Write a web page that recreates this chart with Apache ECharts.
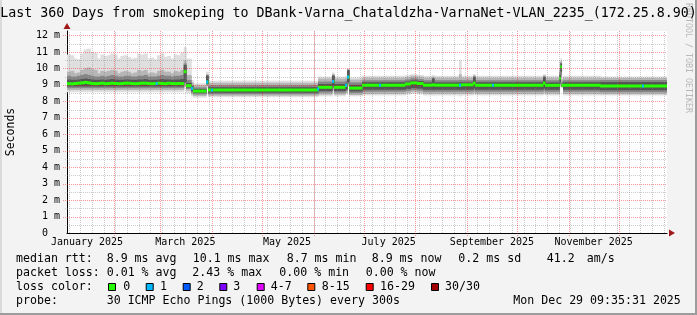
<!DOCTYPE html>
<html><head><meta charset="utf-8">
<script src="https://cdn.jsdelivr.net/npm/echarts@6/dist/echarts.min.js"></script>
<style>html,body{margin:0;padding:0;background:#f3f3f3}#c{width:697px;height:315px}</style>
</head><body><div id="c"></div>
<script>
// ================= DATA =================
const titleText = 'Last 360 Days from smokeping to DBank-Varna_Chataldzha-VarnaNet-VLAN_2235_(172.25.8.90)';
const yAxisName = 'Seconds';
const watermark = 'RRDTOOL / TOBI OETIKER';
// x = day of year 2025 (Jan 1 00:00 = 0)
const xStart = 3, xEnd = 363;
const monthLabels = ['January 2025','March 2025','May 2025','July 2025','September 2025','November 2025'];
const monthLabelDays = [15, 74, 135, 196, 258, 319];
const monthStartDays = [31, 59, 90, 120, 151, 181, 212, 243, 273, 304, 334];
const weekDays = [4,11,18,25,32,39,46,53,60,67,74,81,88,95,102,109,116,123,130,137,144,151,158,165,172,179,186,193,200,207,214,221,228,235,242,249,256,263,270,277,284,291,298,305,312,319,326,333,340,347,354,361];
const yTicks = [0,1,2,3,4,5,6,7,8,9,10,11,12];
const yMajor = [1,2,3,4,5,6,7,8,9,10,11,12];
const yMinor = [0.5,1.5,2.5,3.5,4.5,5.5,6.5,7.5,8.5,9.5,10.5,11.5];
const yMax = 12.27;

// segment start days (each segment lasts until the next start, last until xEnd); values in ms
const segStart = [3,5,7,9,11,13,15,17,19,21,23,25,27,29,31,33,35,37,39,41,43,45,47,49,51,53,55,57,59,61,63,65,67,69,71,
  73,74.4,77.4,78.6,86.4,87.6,153.6,162,163.2,169.8,171,172.2,180,205.8,209,213,216.6,222,223.2,238.2,239.4,246.6,247.8,288.6,289.8,298.4,299,299.6,300.6,322.8];
const median = [9.07,9.06,9.08,9.10,9.12,9.15,9.12,9.08,9.07,9.08,9.10,9.07,9.08,9.10,9.08,9.07,9.08,9.10,9.10,9.08,9.07,9.08,9.10,9.10,9.08,9.07,9.08,9.10,9.08,9.07,9.10,9.08,9.07,9.08,9.07,
  9.8,8.95,8.78,8.62,9.17,8.68,8.85,9.2,8.85,8.97,9.47,8.8,8.97,9.05,9.12,9.08,8.98,9.0,8.98,8.97,9.0,9.1,8.97,9.1,8.97,9.4,10.1,8.97,8.97,8.93];
// smoke layers (outermost 1 -> innermost 4)
const lo1 = [8.55,8.55,8.55,8.55,8.55,8.55,8.55,8.55,8.55,8.55,8.55,8.55,8.55,8.55,8.55,8.55,8.55,8.55,8.55,8.55,8.55,8.55,8.55,8.55,8.55,8.55,8.55,8.55,8.55,8.55,8.55,8.55,8.55,8.55,8.55,
  8.9,8.5,8.3,8.22,8.8,8.25,8.3,8.55,8.3,8.4,8.85,8.3,8.35,8.4,8.45,8.42,8.35,8.35,8.35,8.3,8.35,8.4,8.35,8.4,8.35,8.85,9.2,8.8,8.35,8.35];
const hi1 = [10.85,10.8,10.6,10.55,10.9,11.15,11.2,11.0,10.95,10.6,10.85,10.75,10.8,10.9,10.85,10.6,10.75,10.8,10.7,10.6,10.65,10.9,10.85,10.9,10.6,10.65,10.55,10.8,10.9,10.7,10.75,10.6,10.85,10.8,10.95,
  11.3,10.6,9.3,9.1,9.8,9.25,9.5,9.75,9.5,9.55,10.0,9.45,9.55,9.6,9.65,9.6,9.55,9.6,9.55,10.5,9.55,9.65,9.55,9.65,9.55,10.5,10.6,9.5,9.55,9.5];
const lo2 = [8.68,8.68,8.68,8.68,8.68,8.68,8.68,8.68,8.68,8.68,8.68,8.68,8.68,8.68,8.68,8.68,8.68,8.68,8.68,8.68,8.68,8.68,8.68,8.68,8.68,8.68,8.68,8.68,8.68,8.68,8.68,8.68,8.68,8.68,8.68,
  9.0,8.65,8.42,8.32,8.9,8.33,8.4,8.65,8.4,8.5,8.95,8.38,8.45,8.5,8.55,8.52,8.45,8.45,8.45,8.45,8.45,8.5,8.45,8.5,8.45,8.95,9.4,8.85,8.45,8.43];
const hi2 = [9.8,9.85,9.7,9.75,9.9,10.0,10.05,9.95,9.9,9.7,9.85,9.8,9.85,9.9,9.85,9.7,9.8,9.85,9.8,9.7,9.75,9.9,9.85,9.9,9.7,9.75,9.7,9.85,9.9,9.8,9.8,9.7,9.85,9.8,9.9,
  10.5,9.6,9.15,8.98,9.65,9.12,9.38,9.65,9.38,9.42,9.95,9.32,9.43,9.48,9.55,9.5,9.43,9.5,9.43,9.65,9.43,9.58,9.43,9.58,9.43,10.0,10.45,9.35,9.43,9.42];
const lo3 = [8.8,8.8,8.8,8.8,8.8,8.8,8.8,8.8,8.8,8.8,8.8,8.8,8.8,8.8,8.8,8.8,8.8,8.8,8.8,8.8,8.8,8.8,8.8,8.8,8.8,8.8,8.8,8.8,8.8,8.8,8.8,8.8,8.8,8.8,8.8,
  9.1,8.75,8.52,8.42,9.0,8.43,8.52,8.8,8.52,8.6,9.05,8.5,8.58,8.63,8.68,8.65,8.58,8.58,8.58,8.58,8.58,8.65,8.58,8.65,8.58,9.05,9.6,8.88,8.58,8.55];
const hi3 = [9.55,9.5,9.5,9.55,9.6,9.65,9.6,9.55,9.5,9.5,9.55,9.5,9.55,9.6,9.55,9.5,9.5,9.55,9.55,9.5,9.5,9.55,9.55,9.6,9.5,9.5,9.5,9.55,9.6,9.55,9.55,9.5,9.55,9.55,9.6,
  10.3,9.3,9.0,8.85,9.6,8.98,9.2,9.6,9.2,9.25,9.92,9.15,9.28,9.33,9.4,9.35,9.28,9.42,9.28,9.3,9.28,9.52,9.28,9.52,9.28,9.8,10.35,9.2,9.28,9.3];
const lo4 = [8.9,8.9,8.9,8.9,8.9,8.9,8.9,8.9,8.9,8.9,8.9,8.9,8.9,8.9,8.9,8.9,8.9,8.9,8.9,8.9,8.9,8.9,8.9,8.9,8.9,8.9,8.9,8.9,8.9,8.9,8.9,8.9,8.9,8.9,8.9,
  9.15,8.83,8.62,8.5,9.05,8.52,8.62,8.9,8.62,8.7,9.15,8.6,8.7,8.75,8.8,8.77,8.7,8.7,8.7,8.7,8.7,8.78,8.7,8.78,8.7,9.15,9.8,8.9,8.7,8.67];
const hi4 = [9.32,9.3,9.3,9.32,9.35,9.38,9.35,9.32,9.3,9.3,9.32,9.3,9.32,9.35,9.32,9.3,9.3,9.32,9.32,9.3,9.3,9.32,9.32,9.35,9.3,9.3,9.3,9.32,9.35,9.32,9.32,9.3,9.32,9.32,9.35,
  10.2,9.12,8.92,8.75,9.55,8.85,9.05,9.55,9.05,9.1,9.88,9.0,9.15,9.2,9.27,9.23,9.15,9.38,9.15,9.15,9.15,9.47,9.15,9.47,9.15,9.6,10.3,9.08,9.15,9.17];
// median points with 1/30 loss
const lossDays = [56.8, 78, 87, 90, 153.6, 162.6, 170.4, 171.6, 190.8, 238.8, 258.6, 348.6];
const lossVals = [9.07, 8.78, 9.17, 8.67, 8.75, 9.2, 8.97, 9.47, 8.97, 8.97, 8.97, 8.93];

// legend texts
const rttLabel = 'median rtt:';
const rttStats = ['8.9 ms avg','10.1 ms max','8.7 ms min','8.9 ms now','0.2 ms sd','41.2','am/s'];
const lossLabel = 'packet loss:';
const lossStats = ['0.01 % avg','2.43 % max','0.00 % min','0.00 % now'];
const colorLabel = 'loss color:';
const lossBuckets = ['0','1','2','3','4-7','8-15','16-29','30/30'];
const probeLabel = 'probe:';
const probeText = '30 ICMP Echo Pings (1000 Bytes) every 300s';
const dateText = 'Mon Dec 29 09:35:31 2025';

// ================= STYLE / LAYOUT =================
const MONO = '"DejaVu Sans Mono", monospace';
const bucketColors = ['#26ff00','#00b8ff','#0059ff','#7e00ff','#dd00ff','#ff5500','#ff0000','#a10000'];
const smokeColors = ['#dfdfdf','#b6b6b6','#868686','#555555'];
const RED = 'rgba(255,0,0,0.4)', GRAY = 'rgba(128,128,128,0.4)', ARROW = '#a01818';
const rttX = [106.7,192.7,286.7,371.7,458.3,546.7,586.7];
const lossX = [106.7,192.3,279.3,365.7];
const boxX = [108,145.7,182.7,219.3,256.7,307.3,365.7,431];
const boxLabelX = [123.3,160,196.7,233.3,270.7,321.7,380,445];
const rowY = [259, 273, 287, 301];
const legendFont = '11.6px ' + MONO;

const segEnd = segStart.slice(1).concat([xEnd]);

function band(lo, hi, color) {
  return {
    type: 'custom', silent: true, clip: true, z: 2,
    data: segStart.map((d, i) => [d, segEnd[i], lo[i], hi[i]]),
    encode: { x: [0, 1], y: [2, 3] },
    renderItem: (p, api) => {
      const a = api.coord([api.value(0), api.value(3)]);
      const b = api.coord([api.value(1), api.value(2)]);
      return { type: 'rect', shape: { x: a[0], y: a[1], width: b[0] - a[0] + 0.7, height: b[1] - a[1] }, style: { fill: color } };
    }
  };
}
// pixel-snapped dotted grid lines placed through the axis scales
function vLines(days, color, below) {
  return { type: 'custom', silent: true, clip: false, z: 4,
    data: days.map(d => [d, 0]), encode: { x: 0, y: 1 },
    renderItem: (p, api) => {
      const a = api.coord([api.value(0), 0]);
      const b = api.coord([api.value(0), yMax]);
      const x = Math.round(a[0]) + 0.5;
      return { type: 'line', shape: { x1: x, y1: Math.round(a[1]) + below, x2: x, y2: Math.round(b[1]) },
        style: { stroke: color, lineWidth: 1, lineDash: [1, 1] } };
    } };
}
function hLines(vals, color, left) {
  return { type: 'custom', silent: true, clip: false, z: 4,
    data: vals.map(v => [xStart, v]), encode: { x: 0, y: 1 },
    renderItem: (p, api) => {
      const a = api.coord([xStart, api.value(1)]);
      const b = api.coord([xEnd, api.value(1)]);
      const y = Math.round(a[1]) + 0.5;
      return { type: 'line', shape: { x1: Math.round(a[0]) - left, y1: y, x2: Math.round(b[0]), y2: y },
        style: { stroke: color, lineWidth: 1, lineDash: [1, 1] } };
    } };
}

function txt(t, x, y, opts) {
  return Object.assign({ type: 'text', x: x, y: y, silent: true, z: 10,
    style: Object.assign({ text: t, font: legendFont, fill: '#000', align: 'left', verticalAlign: 'middle' }, (opts || {})) });
}

const graphics = [
  { type: 'rect', shape: { x: 0, y: 313, width: 697, height: 2 }, style: { fill: '#9c9c9c' }, silent: true },
  { type: 'rect', shape: { x: 695, y: 0, width: 2, height: 315 }, style: { fill: '#9c9c9c' }, silent: true },
  { type: 'rect', shape: { x: 0, y: 0, width: 2, height: 313 }, style: { fill: '#dadada' }, silent: true },
  { type: 'text', x: 688, y: 58, rotation: -Math.PI / 2, silent: true, z: 1,
    style: { text: watermark, font: '8.3px ' + MONO, fill: '#b8b8b8', align: 'center', verticalAlign: 'middle' } },
  txt(titleText, 348.5, 14, { font: '13.3px ' + MONO, align: 'center' }),
  txt(rttLabel, 16, rowY[0]),
  txt(lossLabel, 16, rowY[1]),
  txt(colorLabel, 16, rowY[2]),
  txt(probeLabel, 16, rowY[3]),
  txt(probeText, 106.7, rowY[3]),
  txt(dateText, 513.3, rowY[3])
];
rttStats.forEach((t, i) => graphics.push(txt(t, rttX[i], rowY[0])));
lossStats.forEach((t, i) => graphics.push(txt(t, lossX[i], rowY[1])));
lossBuckets.forEach((t, i) => {
  graphics.push({ type: 'rect', silent: true, z: 10, shape: { x: boxX[i] + 0.5, y: 283.5, width: 7, height: 7 },
    style: { fill: bucketColors[i], stroke: '#000', lineWidth: 1 } });
  graphics.push(txt(t, boxLabelX[i], rowY[2]));
});

const chart = echarts.init(document.getElementById('c'), null, { renderer: 'canvas', width: 697, height: 315 });
chart.setOption({
  animation: false,
  backgroundColor: '#f3f3f3',
  grid: { left: 67, right: 30, top: 31, bottom: 82, show: true, backgroundColor: '#ffffff', borderWidth: 0, containLabel: false, outerBoundsMode: 'none' },
  xAxis: [
    { type: 'value', min: xStart, max: xEnd,
      axisLine: { show: true, onZero: false, lineStyle: { color: '#000', width: 1 } },
      axisTick: { show: false }, splitLine: { show: false },
      axisLabel: { customValues: monthLabelDays, formatter: v => monthLabels[monthLabelDays.indexOf(v)] || '',
        fontFamily: MONO, fontSize: 10, color: '#000', margin: 4 } },
    { type: 'value', min: xStart, max: xEnd, position: 'bottom',
      axisLine: { show: true, onZero: false, symbol: ['none', 'triangle'], symbolSize: [7, 6], symbolOffset: [0, 5], lineStyle: { color: ARROW, width: 0 } },
      axisTick: { show: false }, axisLabel: { show: false }, splitLine: { show: false } }
  ],
  yAxis: [
    { type: 'value', min: 0, max: yMax, name: yAxisName, nameLocation: 'middle', nameGap: 50, nameRotate: 90,
      nameTextStyle: { fontFamily: MONO, fontSize: 11.5, color: '#000' },
      axisLine: { show: true, onZero: false, lineStyle: { color: '#000', width: 1 } },
      axisTick: { show: false },
      axisLabel: { customValues: yTicks, formatter: v => (v === 0 ? '0  ' : v + ' m'), fontFamily: MONO, fontSize: 10, color: '#000', margin: 7 },
      splitLine: { show: false } },
    { type: 'value', min: 0, max: yMax, position: 'left',
      axisLine: { show: true, onZero: false, symbol: ['none', 'triangle'], symbolSize: [7, 6], symbolOffset: [0, 5], lineStyle: { color: ARROW, width: 0 } },
      axisTick: { show: false }, axisLabel: { show: false }, splitLine: { show: false } }
  ],
  series: [
    band(lo1, hi1, smokeColors[0]),
    band(lo2, hi2, smokeColors[1]),
    band(lo3, hi3, smokeColors[2]),
    band(lo4, hi4, smokeColors[3]),
    hLines(yMinor, GRAY, 2),
    vLines(weekDays, GRAY, 0),
    hLines(yMajor, RED, 4),
    vLines(monthStartDays, RED, 3),
    { type: 'custom', silent: true, clip: true, z: 5,
      data: segStart.map((d, i) => [d, segEnd[i], median[i]]), encode: { x: [0, 1], y: 2 },
      renderItem: (p, api) => {
        const a = api.coord([api.value(0), api.value(2)]);
        const b = api.coord([api.value(1), api.value(2)]);
        return { type: 'rect', shape: { x: a[0], y: a[1] - 1.5, width: b[0] - a[0] + 0.5, height: 3 }, style: { fill: bucketColors[0] } };
      } },
    { type: 'custom', silent: true, clip: true, z: 6,
      data: lossDays.map((d, i) => [d, lossVals[i]]), encode: { x: 0, y: 1 },
      renderItem: (p, api) => {
        const c = api.coord([api.value(0), api.value(1)]);
        return { type: 'rect', shape: { x: c[0] - 1, y: c[1] - 1.5, width: 2, height: 3 }, style: { fill: bucketColors[1] } };
      } }
  ],
  graphic: graphics
});
</script>
</body></html>
